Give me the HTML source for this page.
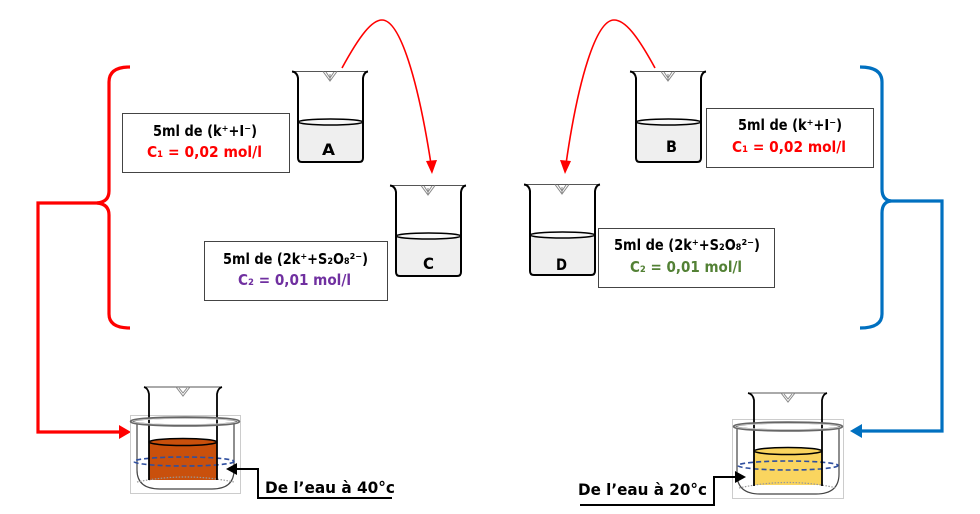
<!DOCTYPE html>
<html><head><meta charset="utf-8"><style>
html,body{margin:0;padding:0;background:#fff;}
svg{display:block;}
text{font-family:"DejaVu Sans","Liberation Sans",sans-serif;font-weight:bold;}
</style></head><body>
<svg width="980" height="514" viewBox="0 0 980 514" xmlns="http://www.w3.org/2000/svg">
<defs>
<g id="bk">
  <path d="M6,51 L71,51 L71,87 Q71,91 67,91 L10,91 Q6,91 6,87 Z" fill="#efefef"/>
  <ellipse cx="38.5" cy="51" rx="32.5" ry="3" fill="#f8f8f8" stroke="#000" stroke-width="1.5"/>
  <path d="M0,0.5 L76,0.5" stroke="#555" stroke-width="1" fill="none"/>
  <path d="M0,0.5 Q5,1 6,7 L6,87 Q6,91 10,91 L67,91 Q71,91 71,87 L71,7 Q72,1 76,0.5" stroke="#000" stroke-width="2" fill="none"/>
  <path d="M31,0.5 L38,10 L45,0.5 M34,1 L38,7 L42,1 M38,3 L38,9" stroke="#888" stroke-width="1" fill="none"/>
</g>
</defs>

<!-- top beakers -->
<use href="#bk" transform="translate(292,71)"/>
<use href="#bk" transform="translate(630,71)"/>
<use href="#bk" transform="translate(390,185)"/>
<use href="#bk" transform="translate(524,184)"/>
<text x="322" y="155" font-size="16" textLength="13" lengthAdjust="spacingAndGlyphs">A</text>
<text x="666" y="152" font-size="16" textLength="11" lengthAdjust="spacingAndGlyphs">B</text>
<text x="423" y="269" font-size="16" textLength="11" lengthAdjust="spacingAndGlyphs">C</text>
<text x="556" y="270" font-size="16" textLength="11" lengthAdjust="spacingAndGlyphs">D</text>

<!-- curved arrows -->
<path d="M342,68 C360,35 372,20 382,20 C400,20 418,80 431,164" stroke="#f00" stroke-width="1.6" fill="none"/>
<polygon points="432,174 426,161 437,160" fill="#f00"/>
<path d="M655,68 C637,35 625,20 614,20 C596,20 578,80 566,164" stroke="#f00" stroke-width="1.6" fill="none"/>
<polygon points="565,174 560,160 571,161" fill="#f00"/>

<!-- boxes -->
<rect x="122.5" y="113.5" width="167" height="59" fill="#fff" stroke="#444" stroke-width="1"/>
<text x="153" y="136" font-size="15" textLength="104" lengthAdjust="spacingAndGlyphs">5ml de (k⁺+I⁻)</text>
<text x="147" y="157" font-size="15" fill="#f00" textLength="115" lengthAdjust="spacingAndGlyphs">C₁ = 0,02 mol/l</text>

<rect x="204.5" y="241.5" width="183" height="59" fill="#fff" stroke="#444" stroke-width="1"/>
<text x="223" y="264" font-size="15" textLength="145" lengthAdjust="spacingAndGlyphs">5ml de (2k⁺+S₂O₈²⁻)</text>
<text x="238" y="285" font-size="15" fill="#7030a0" textLength="113" lengthAdjust="spacingAndGlyphs">C₂ = 0,01 mol/l</text>

<rect x="706.5" y="108.5" width="167" height="59" fill="#fff" stroke="#444" stroke-width="1"/>
<text x="738" y="130" font-size="15" textLength="104" lengthAdjust="spacingAndGlyphs">5ml de (k⁺+I⁻)</text>
<text x="732" y="152" font-size="15" fill="#f00" textLength="114" lengthAdjust="spacingAndGlyphs">C₁ = 0,02 mol/l</text>

<rect x="598.5" y="228.5" width="176" height="59" fill="#fff" stroke="#444" stroke-width="1"/>
<text x="614" y="250" font-size="15" textLength="146" lengthAdjust="spacingAndGlyphs">5ml de (2k⁺+S₂O₈²⁻)</text>
<text x="630" y="272" font-size="15" fill="#538135" textLength="112" lengthAdjust="spacingAndGlyphs">C₂ = 0,01 mol/l</text>

<!-- left brace & connector -->
<path d="M130,67 Q109,67 109,82 L109,191 Q109,202 97,203 Q109,204 109,215 L109,314 Q109,328 130,328" stroke="#f00" stroke-width="3.2" fill="none"/>
<path d="M100,203 L38,203 L38,432 L121,432" stroke="#f00" stroke-width="3.2" fill="none"/>
<polygon points="131,432 119,425 119,439" fill="#f00"/>

<!-- right brace & connector -->
<path d="M860,67 Q882,67 882,82 L882,189 Q882,200 891,201 Q882,202 882,213 L882,314 Q882,328 860,328" stroke="#0070c0" stroke-width="3.2" fill="none"/>
<path d="M889,201 L942,201 L942,431 L860,431" stroke="#0070c0" stroke-width="3.2" fill="none"/>
<polygon points="850,431 862,424 862,438" fill="#0070c0"/>

<!-- left bath -->
<rect x="130.5" y="415.5" width="110" height="78" fill="none" stroke="#ccc" stroke-width="1"/>
<path d="M137,424 L137,470 Q137,489 160,489 L212,489 Q234,489 234,470 L234,424" stroke="#444" stroke-width="1.2" fill="none"/>
<rect x="149" y="442" width="68" height="38" fill="#c9500c"/>
<ellipse cx="183" cy="442" rx="34" ry="3.5" fill="#c9500c" stroke="#000" stroke-width="1.5"/>
<path d="M137,482 Q185,472 234,482" stroke="#999" stroke-width="1.2" stroke-dasharray="1.5,1.5" fill="none"/>
<ellipse cx="184" cy="461.5" rx="50" ry="4.5" fill="none" stroke="#2f4f9f" stroke-width="1.6" stroke-dasharray="5,3"/>
<path d="M144,387 L222,387" stroke="#555" stroke-width="1" fill="none"/>
<path d="M144,387 Q148,388 149,394 L149,480 M222,387 Q218,388 217,394 L217,480" stroke="#000" stroke-width="1.8" fill="none"/>
<path d="M176,387 L183,396 L190,387 M179,388 L183,393 L187,388" stroke="#888" stroke-width="1" fill="none"/>
<ellipse cx="185" cy="421.5" rx="54" ry="4" fill="none" stroke="#666" stroke-width="2.5"/>
<ellipse cx="185" cy="421.5" rx="53" ry="3" fill="none" stroke="#ddd" stroke-width="0.8"/>
<path d="M392,498 L258,498 L258,469 L236,469" stroke="#000" stroke-width="2" fill="none"/>
<polygon points="226,469 237,463 237,475" fill="#000"/>
<text x="265" y="493" font-size="16" textLength="130" lengthAdjust="spacingAndGlyphs">De l’eau à 40°c</text>

<!-- right bath -->
<rect x="732.5" y="419.5" width="111" height="79" fill="none" stroke="#ccc" stroke-width="1"/>
<path d="M737,428 L737,474 Q737,494 760,494 L816,494 Q839,494 839,474 L839,428" stroke="#444" stroke-width="1.2" fill="none"/>
<rect x="754" y="451" width="68" height="34" fill="#fad55f"/>
<ellipse cx="788" cy="451" rx="34" ry="3.5" fill="#fad55f" stroke="#000" stroke-width="1.5"/>
<path d="M739,488 Q788,477 837,488" stroke="#999" stroke-width="1.2" stroke-dasharray="1.5,1.5" fill="none"/>
<ellipse cx="788" cy="465.5" rx="50" ry="4.5" fill="none" stroke="#2f4f9f" stroke-width="1.6" stroke-dasharray="5,3"/>
<path d="M748,393 L827,393" stroke="#555" stroke-width="1" fill="none"/>
<path d="M748,393 Q753,394 754,400 L754,486 M827,393 Q823,394 822,400 L822,486" stroke="#000" stroke-width="1.8" fill="none"/>
<path d="M781,393 L788,402 L795,393 M784,394 L788,399 L792,394" stroke="#888" stroke-width="1" fill="none"/>
<ellipse cx="788" cy="426.5" rx="54" ry="4" fill="none" stroke="#666" stroke-width="2.5"/>
<ellipse cx="788" cy="426.5" rx="53" ry="3" fill="none" stroke="#ddd" stroke-width="0.8"/>
<path d="M580,505 L714,505 L714,477 L736,477" stroke="#000" stroke-width="2" fill="none"/>
<polygon points="746,477 735,471 735,483" fill="#000"/>
<text x="578" y="495" font-size="16" textLength="129" lengthAdjust="spacingAndGlyphs">De l’eau à 20°c</text>
</svg>
</body></html>
